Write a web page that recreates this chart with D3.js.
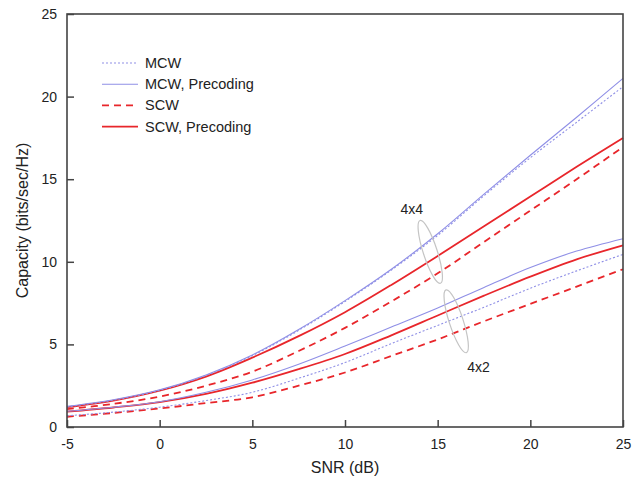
<!DOCTYPE html>
<html>
<head>
<meta charset="utf-8">
<script src="https://cdn.jsdelivr.net/npm/d3@7"></script>
<style>
  html, body { margin: 0; padding: 0; background: #fff; }
  svg text { font-family: "Liberation Sans", Arial, Helvetica, sans-serif; fill: #222; }
</style>
</head>
<body>
<div id="chart"></div>
<script>
// SNR sample points (dB)
const snr = [-5, -2.5, 0, 2.5, 5, 7.5, 10, 12.5, 15, 17.5, 20, 22.5, 25];

// Capacity (bits/sec/Hz), 4x4 antenna configuration
const mcw4x4        = [1.22, 1.62, 2.22, 3.12, 4.32, 5.85, 7.6, 9.5, 11.6, 14.0, 16.3, 18.45, 20.6];
const mcwPrec4x4    = [1.25, 1.65, 2.25, 3.15, 4.36, 5.9, 7.65, 9.55, 11.7, 14.1, 16.45, 18.75, 21.1];
const scw4x4        = [1.08, 1.4, 1.84, 2.5, 3.35, 4.6, 6.0, 7.6, 9.3, 11.2, 13.1, 15.0, 16.95];
const scwPrec4x4    = [1.2, 1.6, 2.2, 3.05, 4.2, 5.5, 6.95, 8.6, 10.35, 12.15, 13.95, 15.75, 17.5];

// Capacity (bits/sec/Hz), 4x2 antenna configuration
const mcw4x2        = [0.68, 0.9, 1.2, 1.6, 2.1, 2.95, 3.9, 5.05, 6.15, 7.25, 8.4, 9.45, 10.45];
const mcwPrec4x2    = [0.95, 1.2, 1.53, 2.1, 2.85, 3.8, 4.9, 6.05, 7.2, 8.45, 9.65, 10.65, 11.4];
const scw4x2        = [0.62, 0.85, 1.12, 1.45, 1.8, 2.5, 3.3, 4.3, 5.3, 6.4, 7.45, 8.5, 9.55];
const scwPrec4x2    = [0.93, 1.18, 1.5, 2.0, 2.68, 3.5, 4.42, 5.55, 6.75, 7.95, 9.1, 10.15, 11.0];

const xTicks = [-5, 0, 5, 10, 15, 20, 25];
const yTicks = [0, 5, 10, 15, 20, 25];

const legendLabels = ["MCW", "MCW, Precoding", "SCW", "SCW, Precoding"];

// Antenna-group annotations: label, ellipse centre (SNR, capacity), label position
const groupLabels = ["4x4", "4x2"];
const groupCentres = [[14.6, 10.6], [16.0, 6.4]];
const groupLabelAt = [[13.6, 12.9], [17.2, 3.3]];

const W = 641, H = 479;
const margin = { left: 67, right: 18, top: 14, bottom: 52 };

const blue = "#8f8fe6";
const red = "#e8262b";

const styles = {
  mcw:     { color: blue, width: 1.1, dash: "2,2" },
  mcwPrec: { color: blue, width: 1.1, dash: null },
  scw:     { color: red,  width: 1.8, dash: "7,5" },
  scwPrec: { color: red,  width: 1.8, dash: null }
};
const legendStyles = [styles.mcw, styles.mcwPrec, styles.scw, styles.scwPrec];

const series = [
  { values: scw4x2, s: styles.scw },
  { values: mcw4x2, s: styles.mcw },
  { values: scwPrec4x2, s: styles.scwPrec },
  { values: mcwPrec4x2, s: styles.mcwPrec },
  { values: scw4x4, s: styles.scw },
  { values: scwPrec4x4, s: styles.scwPrec },
  { values: mcw4x4, s: styles.mcw },
  { values: mcwPrec4x4, s: styles.mcwPrec }
];

const svg = d3.select("#chart").append("svg")
  .attr("width", W).attr("height", H);

const x = d3.scaleLinear().domain([-5, 25]).range([margin.left, W - margin.right]);
const y = d3.scaleLinear().domain([0, 25]).range([H - margin.bottom, margin.top]);

const axisColor = "#444";

// Curves
const line = d3.line()
  .x((d, i) => x(snr[i]))
  .y(d => y(d))
  .curve(d3.curveCatmullRom.alpha(0.5));

const plot = svg.append("g");
series.forEach(sr => {
  plot.append("path")
    .attr("d", line(sr.values))
    .attr("fill", "none")
    .attr("stroke", sr.s.color)
    .attr("stroke-width", sr.s.width)
    .attr("stroke-dasharray", sr.s.dash)
    .attr("stroke-linecap", "butt");
});

// Group ellipses and labels
const ell = svg.append("g");
groupCentres.forEach((c, i) => {
  ell.append("ellipse")
    .attr("transform", `translate(${x(c[0])},${y(c[1])}) rotate(-18)`)
    .attr("rx", 7).attr("ry", 33)
    .attr("fill", "none")
    .attr("stroke", "#c4c4c4")
    .attr("stroke-width", 1.2);
  ell.append("text")
    .attr("x", x(groupLabelAt[i][0]))
    .attr("y", y(groupLabelAt[i][1]))
    .attr("text-anchor", "middle")
    .attr("font-size", 14)
    .text(groupLabels[i]);
});

// Axes with inward ticks
const plainNum = d => String(d);
const xAxis = svg.append("g")
  .attr("transform", `translate(0,${y(0)})`)
  .call(d3.axisBottom(x).tickValues(xTicks).tickSize(-7).tickPadding(12).tickFormat(plainNum));
const yAxis = svg.append("g")
  .attr("transform", `translate(${x(-5)},0)`)
  .call(d3.axisLeft(y).tickValues(yTicks).tickSize(-7).tickPadding(10).tickFormat(plainNum));

[xAxis, yAxis].forEach(a => {
  a.select(".domain").remove();
  a.selectAll(".tick line").attr("stroke", axisColor).attr("stroke-width", 1.5);
  a.selectAll(".tick text").attr("font-size", 14).attr("fill", "#222");
});

// Frame
svg.append("rect")
  .attr("x", x(-5)).attr("y", y(25))
  .attr("width", x(25) - x(-5)).attr("height", y(0) - y(25))
  .attr("fill", "none").attr("stroke", axisColor).attr("stroke-width", 1.6);

// Axis titles
svg.append("text")
  .attr("x", (x(-5) + x(25)) / 2)
  .attr("y", 473)
  .attr("text-anchor", "middle")
  .attr("font-size", 16)
  .text("SNR (dB)");
svg.append("text")
  .attr("transform", `translate(28,${(y(0) + y(25)) / 2}) rotate(-90)`)
  .attr("text-anchor", "middle")
  .attr("font-size", 16)
  .text("Capacity (bits/sec/Hz)");

// Legend
const legend = svg.append("g").attr("transform", "translate(102,63)");
legendLabels.forEach((lab, i) => {
  const st = legendStyles[i];
  const g = legend.append("g").attr("transform", `translate(0,${i * 21.2})`);
  g.append("line")
    .attr("x1", 0).attr("x2", 36).attr("y1", 0).attr("y2", 0)
    .attr("stroke", st.color).attr("stroke-width", st.width)
    .attr("stroke-dasharray", st.dash);
  g.append("text")
    .attr("x", 43).attr("y", 5)
    .attr("font-size", 14.5)
    .text(lab);
});
</script>
</body>
</html>
